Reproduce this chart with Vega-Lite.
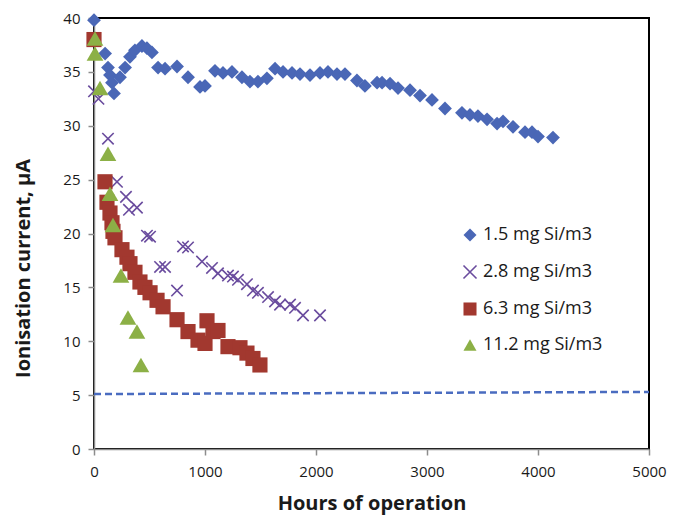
{
  "$schema": "https://vega.github.io/schema/vega-lite/v6.json",
  "width": 555,
  "height": 431,
  "autosize": "none",
  "padding": {"left": 94, "top": 18, "right": 39, "bottom": 75},
  "background": "white",
  "config": {
    "font": "Open Sans",
    "view": {"stroke": "#000000", "strokeWidth": 2},
    "axis": {
      "grid": false,
      "domainColor": "#8c8c8c",
      "domainWidth": 1.5,
      "tickColor": "#8c8c8c",
      "tickWidth": 1.5,
      "tickSize": 6,
      "labelFont": "Open Sans",
      "labelFontSize": 15,
      "labelColor": "#1a1a1a",
      "labelFlush": false,
      "titleFont": "Open Sans",
      "titleFontSize": 20,
      "titleFontWeight": "bold",
      "titleColor": "#1a1a1a"
    }
  },
  "datasets": {
    "readings": [
      {"hours": 0, "current": 39.8, "series": "1.5 mg Si/m3"},
      {"hours": 100, "current": 36.7, "series": "1.5 mg Si/m3"},
      {"hours": 126, "current": 35.4, "series": "1.5 mg Si/m3"},
      {"hours": 144, "current": 34.7, "series": "1.5 mg Si/m3"},
      {"hours": 162, "current": 34.0, "series": "1.5 mg Si/m3"},
      {"hours": 180, "current": 33.0, "series": "1.5 mg Si/m3"},
      {"hours": 234, "current": 34.5, "series": "1.5 mg Si/m3"},
      {"hours": 280, "current": 35.4, "series": "1.5 mg Si/m3"},
      {"hours": 324, "current": 36.4, "series": "1.5 mg Si/m3"},
      {"hours": 369, "current": 37.0, "series": "1.5 mg Si/m3"},
      {"hours": 432, "current": 37.4, "series": "1.5 mg Si/m3"},
      {"hours": 477, "current": 37.2, "series": "1.5 mg Si/m3"},
      {"hours": 522, "current": 36.8, "series": "1.5 mg Si/m3"},
      {"hours": 577, "current": 35.4, "series": "1.5 mg Si/m3"},
      {"hours": 640, "current": 35.3, "series": "1.5 mg Si/m3"},
      {"hours": 748, "current": 35.5, "series": "1.5 mg Si/m3"},
      {"hours": 847, "current": 34.5, "series": "1.5 mg Si/m3"},
      {"hours": 955, "current": 33.6, "series": "1.5 mg Si/m3"},
      {"hours": 1000, "current": 33.7, "series": "1.5 mg Si/m3"},
      {"hours": 1090, "current": 35.1, "series": "1.5 mg Si/m3"},
      {"hours": 1162, "current": 34.9, "series": "1.5 mg Si/m3"},
      {"hours": 1243, "current": 35.0, "series": "1.5 mg Si/m3"},
      {"hours": 1333, "current": 34.5, "series": "1.5 mg Si/m3"},
      {"hours": 1405, "current": 34.1, "series": "1.5 mg Si/m3"},
      {"hours": 1477, "current": 34.1, "series": "1.5 mg Si/m3"},
      {"hours": 1558, "current": 34.4, "series": "1.5 mg Si/m3"},
      {"hours": 1631, "current": 35.3, "series": "1.5 mg Si/m3"},
      {"hours": 1703, "current": 35.0, "series": "1.5 mg Si/m3"},
      {"hours": 1784, "current": 34.9, "series": "1.5 mg Si/m3"},
      {"hours": 1856, "current": 34.8, "series": "1.5 mg Si/m3"},
      {"hours": 1946, "current": 34.7, "series": "1.5 mg Si/m3"},
      {"hours": 2036, "current": 34.9, "series": "1.5 mg Si/m3"},
      {"hours": 2108, "current": 35.0, "series": "1.5 mg Si/m3"},
      {"hours": 2189, "current": 34.8, "series": "1.5 mg Si/m3"},
      {"hours": 2261, "current": 34.8, "series": "1.5 mg Si/m3"},
      {"hours": 2369, "current": 34.2, "series": "1.5 mg Si/m3"},
      {"hours": 2441, "current": 33.7, "series": "1.5 mg Si/m3"},
      {"hours": 2550, "current": 34.0, "series": "1.5 mg Si/m3"},
      {"hours": 2595, "current": 34.0, "series": "1.5 mg Si/m3"},
      {"hours": 2667, "current": 33.9, "series": "1.5 mg Si/m3"},
      {"hours": 2739, "current": 33.5, "series": "1.5 mg Si/m3"},
      {"hours": 2847, "current": 33.3, "series": "1.5 mg Si/m3"},
      {"hours": 2937, "current": 32.8, "series": "1.5 mg Si/m3"},
      {"hours": 3045, "current": 32.4, "series": "1.5 mg Si/m3"},
      {"hours": 3162, "current": 31.6, "series": "1.5 mg Si/m3"},
      {"hours": 3315, "current": 31.2, "series": "1.5 mg Si/m3"},
      {"hours": 3387, "current": 31.0, "series": "1.5 mg Si/m3"},
      {"hours": 3459, "current": 30.9, "series": "1.5 mg Si/m3"},
      {"hours": 3541, "current": 30.6, "series": "1.5 mg Si/m3"},
      {"hours": 3631, "current": 30.2, "series": "1.5 mg Si/m3"},
      {"hours": 3685, "current": 30.4, "series": "1.5 mg Si/m3"},
      {"hours": 3775, "current": 29.9, "series": "1.5 mg Si/m3"},
      {"hours": 3883, "current": 29.4, "series": "1.5 mg Si/m3"},
      {"hours": 3946, "current": 29.4, "series": "1.5 mg Si/m3"},
      {"hours": 4000, "current": 29.0, "series": "1.5 mg Si/m3"},
      {"hours": 4135, "current": 28.9, "series": "1.5 mg Si/m3"},

      {"hours": 0, "current": 33.2, "series": "2.8 mg Si/m3"},
      {"hours": 40, "current": 32.5, "series": "2.8 mg Si/m3"},
      {"hours": 126, "current": 28.8, "series": "2.8 mg Si/m3"},
      {"hours": 207, "current": 24.8, "series": "2.8 mg Si/m3"},
      {"hours": 288, "current": 23.4, "series": "2.8 mg Si/m3"},
      {"hours": 315, "current": 22.2, "series": "2.8 mg Si/m3"},
      {"hours": 387, "current": 22.4, "series": "2.8 mg Si/m3"},
      {"hours": 477, "current": 19.8, "series": "2.8 mg Si/m3"},
      {"hours": 505, "current": 19.7, "series": "2.8 mg Si/m3"},
      {"hours": 595, "current": 16.9, "series": "2.8 mg Si/m3"},
      {"hours": 640, "current": 16.9, "series": "2.8 mg Si/m3"},
      {"hours": 748, "current": 14.7, "series": "2.8 mg Si/m3"},
      {"hours": 802, "current": 18.8, "series": "2.8 mg Si/m3"},
      {"hours": 847, "current": 18.7, "series": "2.8 mg Si/m3"},
      {"hours": 973, "current": 17.4, "series": "2.8 mg Si/m3"},
      {"hours": 1063, "current": 16.8, "series": "2.8 mg Si/m3"},
      {"hours": 1117, "current": 16.3, "series": "2.8 mg Si/m3"},
      {"hours": 1207, "current": 16.1, "series": "2.8 mg Si/m3"},
      {"hours": 1252, "current": 16.0, "series": "2.8 mg Si/m3"},
      {"hours": 1297, "current": 15.7, "series": "2.8 mg Si/m3"},
      {"hours": 1378, "current": 15.3, "series": "2.8 mg Si/m3"},
      {"hours": 1432, "current": 14.7, "series": "2.8 mg Si/m3"},
      {"hours": 1477, "current": 14.5, "series": "2.8 mg Si/m3"},
      {"hours": 1568, "current": 14.1, "series": "2.8 mg Si/m3"},
      {"hours": 1631, "current": 13.7, "series": "2.8 mg Si/m3"},
      {"hours": 1676, "current": 13.4, "series": "2.8 mg Si/m3"},
      {"hours": 1766, "current": 13.4, "series": "2.8 mg Si/m3"},
      {"hours": 1811, "current": 13.1, "series": "2.8 mg Si/m3"},
      {"hours": 1883, "current": 12.4, "series": "2.8 mg Si/m3"},
      {"hours": 2036, "current": 12.4, "series": "2.8 mg Si/m3"},

      {"hours": 0, "current": 38.0, "series": "6.3 mg Si/m3"},
      {"hours": 99, "current": 24.8, "series": "6.3 mg Si/m3"},
      {"hours": 117, "current": 22.9, "series": "6.3 mg Si/m3"},
      {"hours": 144, "current": 21.9, "series": "6.3 mg Si/m3"},
      {"hours": 162, "current": 21.0, "series": "6.3 mg Si/m3"},
      {"hours": 171, "current": 20.2, "series": "6.3 mg Si/m3"},
      {"hours": 189, "current": 19.6, "series": "6.3 mg Si/m3"},
      {"hours": 252, "current": 18.5, "series": "6.3 mg Si/m3"},
      {"hours": 297, "current": 17.8, "series": "6.3 mg Si/m3"},
      {"hours": 324, "current": 17.2, "series": "6.3 mg Si/m3"},
      {"hours": 369, "current": 16.4, "series": "6.3 mg Si/m3"},
      {"hours": 414, "current": 15.5, "series": "6.3 mg Si/m3"},
      {"hours": 459, "current": 15.0, "series": "6.3 mg Si/m3"},
      {"hours": 505, "current": 14.5, "series": "6.3 mg Si/m3"},
      {"hours": 568, "current": 13.8, "series": "6.3 mg Si/m3"},
      {"hours": 622, "current": 13.2, "series": "6.3 mg Si/m3"},
      {"hours": 748, "current": 12.0, "series": "6.3 mg Si/m3"},
      {"hours": 847, "current": 10.9, "series": "6.3 mg Si/m3"},
      {"hours": 937, "current": 10.1, "series": "6.3 mg Si/m3"},
      {"hours": 1000, "current": 9.8, "series": "6.3 mg Si/m3"},
      {"hours": 1018, "current": 11.9, "series": "6.3 mg Si/m3"},
      {"hours": 1072, "current": 10.9, "series": "6.3 mg Si/m3"},
      {"hours": 1117, "current": 11.0, "series": "6.3 mg Si/m3"},
      {"hours": 1207, "current": 9.5, "series": "6.3 mg Si/m3"},
      {"hours": 1315, "current": 9.4, "series": "6.3 mg Si/m3"},
      {"hours": 1378, "current": 8.9, "series": "6.3 mg Si/m3"},
      {"hours": 1432, "current": 8.4, "series": "6.3 mg Si/m3"},
      {"hours": 1495, "current": 7.8, "series": "6.3 mg Si/m3"},

      {"hours": 9, "current": 38.1, "series": "11.2 mg Si/m3"},
      {"hours": 9, "current": 36.7, "series": "11.2 mg Si/m3"},
      {"hours": 54, "current": 33.5, "series": "11.2 mg Si/m3"},
      {"hours": 126, "current": 27.4, "series": "11.2 mg Si/m3"},
      {"hours": 144, "current": 23.7, "series": "11.2 mg Si/m3"},
      {"hours": 171, "current": 20.8, "series": "11.2 mg Si/m3"},
      {"hours": 243, "current": 16.1, "series": "11.2 mg Si/m3"},
      {"hours": 306, "current": 12.2, "series": "11.2 mg Si/m3"},
      {"hours": 387, "current": 10.9, "series": "11.2 mg Si/m3"},
      {"hours": 423, "current": 7.8, "series": "11.2 mg Si/m3"}
    ],
    "threshold": [
      {"hours": 0, "current": 5.1},
      {"hours": 5000, "current": 5.3}
    ]
  },
  "encoding": {
    "x": {
      "field": "hours",
      "type": "quantitative",
      "scale": {"domain": [0, 5000], "nice": false, "zero": true},
      "axis": {"values": [0, 1000, 2000, 3000, 4000, 5000], "format": "d", "title": "Hours of operation", "labelPadding": 9, "titlePadding": 14}
    },
    "y": {
      "field": "current",
      "type": "quantitative",
      "scale": {"domain": [0, 40], "nice": false},
      "axis": {"values": [0, 5, 10, 15, 20, 25, 30, 35, 40], "title": "Ionisation current, μA", "labelPadding": 8, "titleX": -61, "titleY": 250}
    }
  },
  "layer": [
    {
      "data": {"name": "threshold"},
      "mark": {"type": "line", "color": "#4a6cc0", "strokeWidth": 2.5, "strokeDash": [7, 4]}
    },
    {
      "data": {"name": "readings"},
      "transform": [{"filter": {"field": "series", "equal": "1.5 mg Si/m3"}}],
      "mark": {"type": "point", "filled": true, "opacity": 1, "size": 190, "clip": false},
      "encoding": {
        "shape": {
          "field": "series",
          "type": "nominal",
          "scale": {
            "domain": ["1.5 mg Si/m3", "2.8 mg Si/m3", "6.3 mg Si/m3", "11.2 mg Si/m3"],
            "range": ["diamond", "M-1,-1L1,1M-1,1L1,-1", "square", "triangle-up"]
          },
          "legend": {
            "orient": "none",
            "legendX": 367,
            "legendY": 208,
            "title": null,
            "labelFont": "Open Sans",
            "labelFontSize": 18,
            "labelColor": "#1a1a1a",
            "labelOffset": 4,
            "rowPadding": 17,
            "symbolSize": 170,
            "symbolStrokeWidth": 1.6
          }
        },
        "fill": {
          "field": "series",
          "type": "nominal",
          "scale": {
            "domain": ["1.5 mg Si/m3", "2.8 mg Si/m3", "6.3 mg Si/m3", "11.2 mg Si/m3"],
            "range": ["#4a67b6", "transparent", "#a2382f", "#8cb046"]
          },
          "legend": {
            "orient": "none",
            "legendX": 367,
            "legendY": 208,
            "title": null,
            "labelFont": "Open Sans",
            "labelFontSize": 18,
            "labelColor": "#1a1a1a",
            "labelOffset": 4,
            "rowPadding": 17,
            "symbolSize": 170,
            "symbolStrokeWidth": 1.6
          }
        },
        "stroke": {
          "field": "series",
          "type": "nominal",
          "scale": {
            "domain": ["1.5 mg Si/m3", "2.8 mg Si/m3", "6.3 mg Si/m3", "11.2 mg Si/m3"],
            "range": ["transparent", "#6a4c9e", "transparent", "transparent"]
          },
          "legend": {
            "orient": "none",
            "legendX": 367,
            "legendY": 208,
            "title": null,
            "labelFont": "Open Sans",
            "labelFontSize": 18,
            "labelColor": "#1a1a1a",
            "labelOffset": 4,
            "rowPadding": 17,
            "symbolSize": 170,
            "symbolStrokeWidth": 1.6
          }
        }
      }
    },
    {
      "data": {"name": "readings"},
      "transform": [{"filter": {"field": "series", "equal": "2.8 mg Si/m3"}}],
      "mark": {"type": "point", "filled": true, "opacity": 1, "size": 130, "strokeWidth": 1.6, "clip": false},
      "encoding": {
        "shape": {"field": "series", "type": "nominal"},
        "fill": {"field": "series", "type": "nominal"},
        "stroke": {"field": "series", "type": "nominal"}
      }
    },
    {
      "data": {"name": "readings"},
      "transform": [{"filter": {"field": "series", "equal": "6.3 mg Si/m3"}}],
      "mark": {"type": "point", "filled": true, "opacity": 1, "size": 230, "clip": false},
      "encoding": {
        "shape": {"field": "series", "type": "nominal"},
        "fill": {"field": "series", "type": "nominal"},
        "stroke": {"field": "series", "type": "nominal"}
      }
    },
    {
      "data": {"name": "readings"},
      "transform": [{"filter": {"field": "series", "equal": "11.2 mg Si/m3"}}],
      "mark": {"type": "point", "filled": true, "opacity": 1, "size": 280, "clip": false},
      "encoding": {
        "shape": {"field": "series", "type": "nominal"},
        "fill": {"field": "series", "type": "nominal"},
        "stroke": {"field": "series", "type": "nominal"}
      }
    }
  ]
}
